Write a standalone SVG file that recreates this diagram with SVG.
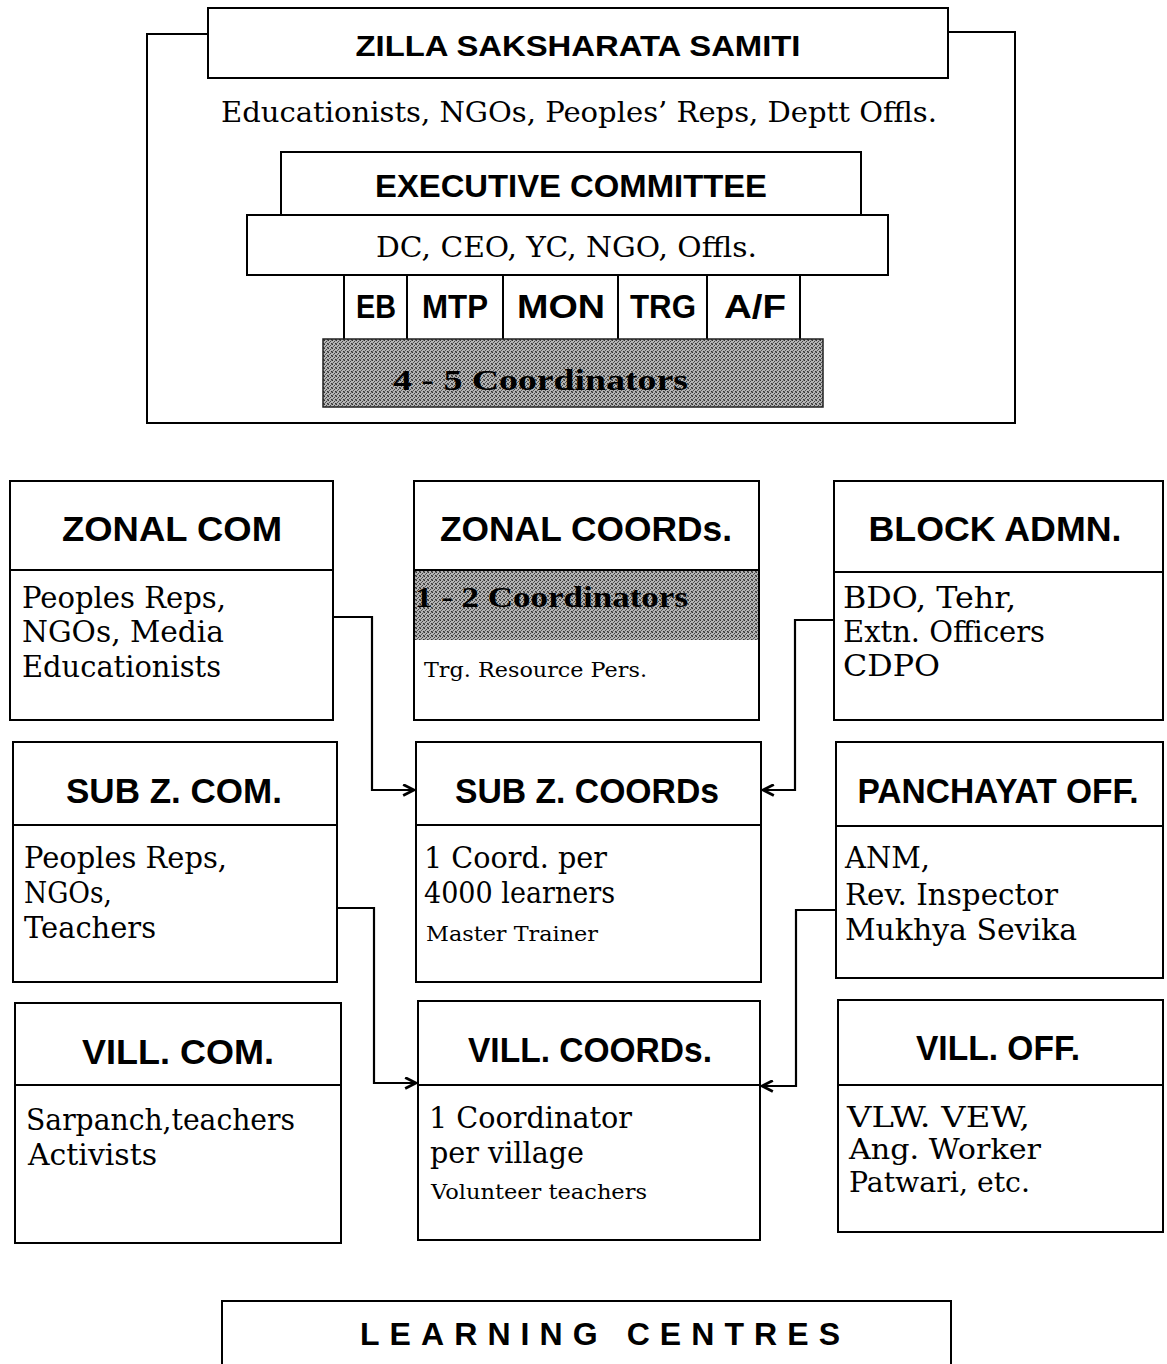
<svg xmlns="http://www.w3.org/2000/svg" width="1167" height="1364" viewBox="0 0 1167 1364">
<defs>
<pattern id="hatch" width="4" height="4" patternUnits="userSpaceOnUse">
<rect width="4" height="4" fill="#b4b4b4"/>
<rect x="0" y="0" width="1" height="1" fill="#333"/>
<rect x="2" y="1" width="1" height="1" fill="#444"/>
<rect x="1" y="2" width="1" height="1" fill="#555"/>
<rect x="3" y="3" width="1" height="1" fill="#333"/>
<rect x="3" y="0" width="1" height="1" fill="#777"/>
<rect x="0" y="3" width="1" height="1" fill="#666"/>
</pattern>
<marker id="arr" viewBox="0 0 12 12" refX="11" refY="6" markerWidth="13" markerHeight="13" markerUnits="userSpaceOnUse" orient="auto">
<path d="M1,1 L11,6 L1,11" fill="none" stroke="#000" stroke-width="2.6"/>
</marker>
<style>
.box{fill:#fff;stroke:#000;stroke-width:2}
.line{fill:none;stroke:#000;stroke-width:2}
.hd{font-family:"Liberation Sans",Arial,sans-serif;font-weight:bold;fill:#000}
.sr{font-family:"Liberation Serif","Times New Roman",serif;fill:#000}
.bd{font-family:"DejaVu Serif","Liberation Serif",serif;fill:#000}
.conn{fill:none;stroke:#000;stroke-width:2.2}
</style>
</defs>
<rect width="1167" height="1364" fill="#fff"/>

<g id="zilla">
<path class="line" d="M208,34 H147 V423 H1015 V32 H948"/>
<rect class="box" x="208" y="8" width="740" height="70"/>
<text class="hd" x="578" y="56" font-size="30" text-anchor="middle" textLength="445" lengthAdjust="spacingAndGlyphs">ZILLA SAKSHARATA SAMITI</text>
<text class="bd" x="221" y="122" font-size="28" textLength="716" lengthAdjust="spacingAndGlyphs">Educationists, NGOs, Peoples’ Reps, Deptt  Offls.</text>
</g>

<g id="executive">
<rect class="box" x="281" y="152" width="580" height="63"/>
<text class="hd" x="571" y="197" font-size="31" text-anchor="middle" textLength="392" lengthAdjust="spacingAndGlyphs">EXECUTIVE COMMITTEE</text>
<rect class="box" x="247" y="215" width="641" height="60"/>
<text class="bd" x="376" y="257" font-size="28" textLength="381" lengthAdjust="spacingAndGlyphs">DC, CEO, YC, NGO, Offls.</text>
</g>

<g id="cells">
<rect class="box" x="344" y="275" width="63" height="65"/>
<rect class="box" x="407" y="275" width="96" height="65"/>
<rect class="box" x="503" y="275" width="115" height="65"/>
<rect class="box" x="618" y="275" width="89" height="65"/>
<rect class="box" x="707" y="275" width="93" height="65"/>
<text class="hd" x="376" y="318" font-size="33" text-anchor="middle" textLength="40" lengthAdjust="spacingAndGlyphs">EB</text>
<text class="hd" x="455" y="318" font-size="33" text-anchor="middle" textLength="66" lengthAdjust="spacingAndGlyphs">MTP</text>
<text class="hd" x="561" y="318" font-size="33" text-anchor="middle" textLength="88" lengthAdjust="spacingAndGlyphs">MON</text>
<text class="hd" x="663" y="318" font-size="33" text-anchor="middle" textLength="66" lengthAdjust="spacingAndGlyphs">TRG</text>
<text class="hd" x="755" y="318" font-size="33" text-anchor="middle" textLength="62" lengthAdjust="spacingAndGlyphs">A/F</text>
</g>

<g id="coordinators45">
<rect x="323" y="339" width="500" height="68" fill="url(#hatch)" stroke="#222" stroke-width="1.5"/>
<text class="sr" x="393" y="390" font-size="30" font-weight="bold" fill="#1a1a1a" textLength="295" lengthAdjust="spacingAndGlyphs">4 - 5 Coordinators</text>
</g>

<g id="zonal-com">
<rect class="box" x="10" y="481" width="323" height="239"/>
<line class="line" x1="10" y1="570" x2="333" y2="570"/>
<text class="hd" x="172" y="541" font-size="35" text-anchor="middle" textLength="220" lengthAdjust="spacingAndGlyphs">ZONAL COM</text>
<text class="bd" font-size="29">
<tspan x="22" y="608" textLength="204" lengthAdjust="spacingAndGlyphs">Peoples Reps,</tspan>
<tspan x="22" y="642" textLength="202" lengthAdjust="spacingAndGlyphs">NGOs, Media</tspan>
<tspan x="22" y="677" textLength="199" lengthAdjust="spacingAndGlyphs">Educationists</tspan>
</text>
</g>

<g id="zonal-coords">
<rect class="box" x="414" y="481" width="345" height="239"/>
<rect x="415" y="571" width="343" height="69" fill="url(#hatch)"/>
<line class="line" x1="414" y1="570" x2="759" y2="570"/>
<text class="hd" x="586" y="541" font-size="35" text-anchor="middle" textLength="292" lengthAdjust="spacingAndGlyphs">ZONAL COORDs.</text>
<text class="sr" x="415" y="607" font-size="30" font-weight="bold" fill="#1a1a1a" textLength="273" lengthAdjust="spacingAndGlyphs">1 - 2 Coordinators</text>
<text class="bd" x="424" y="677" font-size="21" textLength="223" lengthAdjust="spacingAndGlyphs">Trg. Resource Pers.</text>
</g>

<g id="block-admn">
<rect class="box" x="834" y="481" width="329" height="239"/>
<line class="line" x1="834" y1="572" x2="1163" y2="572"/>
<text class="hd" x="995" y="541" font-size="35" text-anchor="middle" textLength="253" lengthAdjust="spacingAndGlyphs">BLOCK ADMN.</text>
<text class="bd" font-size="29">
<tspan x="843" y="608" textLength="173" lengthAdjust="spacingAndGlyphs">BDO, Tehr,</tspan>
<tspan x="843" y="642" textLength="202" lengthAdjust="spacingAndGlyphs">Extn. Officers</tspan>
<tspan x="843" y="676" textLength="97" lengthAdjust="spacingAndGlyphs">CDPO</tspan>
</text>
</g>

<g id="subz-com">
<rect class="box" x="13" y="742" width="324" height="240"/>
<line class="line" x1="13" y1="825" x2="337" y2="825"/>
<text class="hd" x="174" y="803" font-size="35" text-anchor="middle" textLength="216" lengthAdjust="spacingAndGlyphs">SUB Z. COM.</text>
<text class="bd" font-size="29">
<tspan x="24" y="868" textLength="203" lengthAdjust="spacingAndGlyphs">Peoples Reps,</tspan>
<tspan x="24" y="903" textLength="88" lengthAdjust="spacingAndGlyphs">NGOs,</tspan>
<tspan x="24" y="938" textLength="132" lengthAdjust="spacingAndGlyphs">Teachers</tspan>
</text>
</g>

<g id="subz-coords">
<rect class="box" x="416" y="742" width="345" height="240"/>
<line class="line" x1="416" y1="825" x2="761" y2="825"/>
<text class="hd" x="587" y="803" font-size="35" text-anchor="middle" textLength="264" lengthAdjust="spacingAndGlyphs">SUB Z. COORDs</text>
<text class="bd" font-size="29">
<tspan x="424" y="868" textLength="183" lengthAdjust="spacingAndGlyphs">1 Coord. per</tspan>
<tspan x="424" y="903" textLength="191" lengthAdjust="spacingAndGlyphs">4000 learners</tspan>
</text>
<text class="bd" x="426" y="941" font-size="21" textLength="172" lengthAdjust="spacingAndGlyphs">Master Trainer</text>
</g>

<g id="panchayat-off">
<rect class="box" x="836" y="742" width="327" height="236"/>
<line class="line" x1="836" y1="826" x2="1163" y2="826"/>
<text class="hd" x="998" y="803" font-size="35" text-anchor="middle" textLength="281" lengthAdjust="spacingAndGlyphs">PANCHAYAT OFF.</text>
<text class="bd" font-size="29">
<tspan x="845" y="868" textLength="85" lengthAdjust="spacingAndGlyphs">ANM,</tspan>
<tspan x="845" y="905" textLength="213" lengthAdjust="spacingAndGlyphs">Rev. Inspector</tspan>
<tspan x="845" y="940" textLength="232" lengthAdjust="spacingAndGlyphs">Mukhya Sevika</tspan>
</text>
</g>

<g id="vill-com">
<rect class="box" x="15" y="1003" width="326" height="240"/>
<line class="line" x1="15" y1="1085" x2="341" y2="1085"/>
<text class="hd" x="178" y="1064" font-size="35" text-anchor="middle" textLength="192" lengthAdjust="spacingAndGlyphs">VILL. COM.</text>
<text class="bd" font-size="29">
<tspan x="26" y="1130" textLength="269" lengthAdjust="spacingAndGlyphs">Sarpanch,teachers</tspan>
<tspan x="28" y="1165" textLength="129" lengthAdjust="spacingAndGlyphs">Activists</tspan>
</text>
</g>

<g id="vill-coords">
<rect class="box" x="418" y="1001" width="342" height="239"/>
<line class="line" x1="418" y1="1085" x2="760" y2="1085"/>
<text class="hd" x="590" y="1062" font-size="35" text-anchor="middle" textLength="244" lengthAdjust="spacingAndGlyphs">VILL. COORDs.</text>
<text class="bd" font-size="29">
<tspan x="429" y="1128" textLength="203" lengthAdjust="spacingAndGlyphs">1 Coordinator</tspan>
<tspan x="430" y="1163" textLength="154" lengthAdjust="spacingAndGlyphs">per village</tspan>
</text>
<text class="bd" x="431" y="1199" font-size="21" textLength="216" lengthAdjust="spacingAndGlyphs">Volunteer teachers</text>
</g>

<g id="vill-off">
<rect class="box" x="838" y="1000" width="325" height="232"/>
<line class="line" x1="838" y1="1085" x2="1163" y2="1085"/>
<text class="hd" x="998" y="1060" font-size="35" text-anchor="middle" textLength="164" lengthAdjust="spacingAndGlyphs">VILL. OFF.</text>
<text class="bd" font-size="27">
<tspan x="847" y="1127" textLength="183" lengthAdjust="spacingAndGlyphs">VLW. VEW,</tspan>
<tspan x="849" y="1159" textLength="192" lengthAdjust="spacingAndGlyphs">Ang. Worker</tspan>
<tspan x="849" y="1192" textLength="181" lengthAdjust="spacingAndGlyphs">Patwari, etc.</tspan>
</text>
</g>

<g id="learning-centres">
<path class="line" d="M222,1364 V1301 H951 V1364"/>
<text class="hd" x="360" y="1345" font-size="32" textLength="480" lengthAdjust="spacing">LEARNING CENTRES</text>
</g>

<g id="connectors">
<path class="conn" d="M333,617 H372 V790 H414" marker-end="url(#arr)"/>
<path class="conn" d="M834,620 H795 V790 H763" marker-end="url(#arr)"/>
<path class="conn" d="M337,908 H374 V1083 H416" marker-end="url(#arr)"/>
<path class="conn" d="M836,910 H796 V1086 H762" marker-end="url(#arr)"/>
</g>
</svg>
